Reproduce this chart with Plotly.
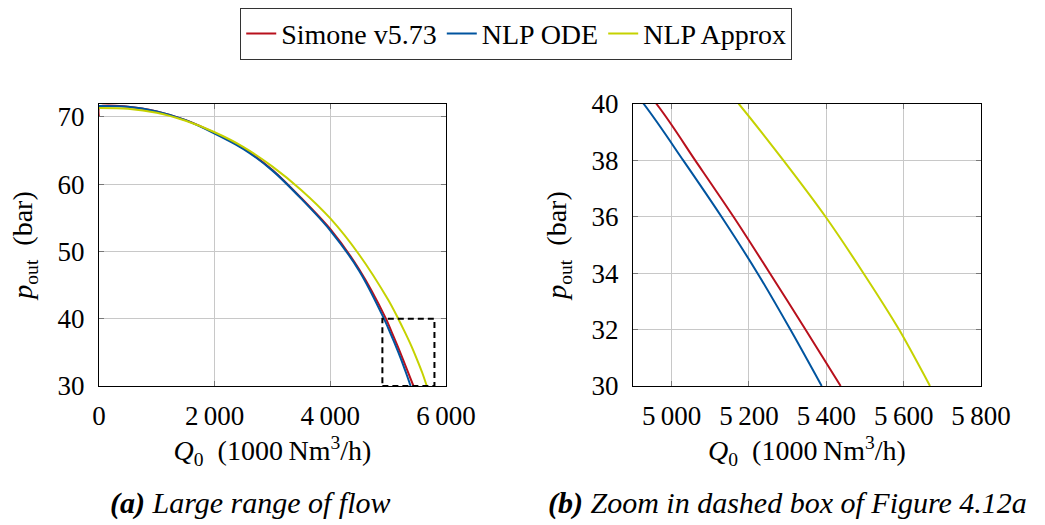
import plotly.graph_objects as go
from plotly.subplots import make_subplots

# ---- data ----
simone_q = [0, 10, 500, 1000, 1500, 2000, 2500, 3000, 3500, 4000, 4500, 4961, 5061, 5160, 5254, 5346, 5437]
simone_p = [70.0, 71.5, 71.5, 70.8, 69.5, 67.6, 65.3, 62.1, 57.9, 53.3, 47.3, 40.0, 38.0, 36.0, 34.0, 32.0, 30.0]

ode_q = [0, 500, 1000, 1500, 2000, 2500, 3000, 3500, 4000, 4500, 4928, 5030, 5129, 5222, 5307, 5388]
ode_p = [71.6, 71.5, 70.8, 69.5, 67.5, 65.2, 62.0, 57.8, 53.1, 47.1, 40.0, 38.0, 36.0, 34.0, 32.0, 30.0]

approx_q = [0, 500, 1000, 1500, 2000, 2500, 3000, 3500, 4000, 4500, 5000, 5174, 5289, 5398, 5496, 5588, 5668]
approx_p = [71.3, 71.2, 70.6, 69.4, 67.7, 65.5, 62.6, 59.1, 54.9, 49.5, 42.8, 40.0, 38.0, 36.0, 34.0, 32.0, 30.0]

names = ["Simone v5.73", "NLP ODE", "NLP Approx"]
colors = ["#B8101C", "#00549F", "#C5D200"]

left_xticks = [0, 2000, 4000, 6000]
left_xlabels = ["0", "2\u2009000", "4\u2009000", "6\u2009000"]
left_yticks = [30, 40, 50, 60, 70]
right_xticks = [5000, 5200, 5400, 5600, 5800]
right_xlabels = ["5\u2009000", "5\u2009200", "5\u2009400", "5\u2009600", "5\u2009800"]
right_yticks = [30, 32, 34, 36, 38, 40]

box_q = [4900, 5800]
box_p = [30, 40]

FONT = "Liberation Serif, Tinos, Times New Roman, DejaVu Serif, serif"

fig = make_subplots(rows=1, cols=2)

series = [(simone_q, simone_p), (ode_q, ode_p), (approx_q, approx_p)]
for i, (q, p) in enumerate(series):
    for col in (1, 2):
        fig.add_trace(
            go.Scatter(x=q, y=p, mode="lines", name=names[i],
                       line=dict(color=colors[i], width=2, shape="spline", smoothing=0.8),
                       showlegend=(col == 1), cliponaxis=True),
            row=1, col=col)

axis_common = dict(
    showgrid=True, gridcolor="#c8c8c8", gridwidth=1,
    showline=True, linecolor="black", linewidth=1, mirror="ticks",
    ticks="inside", ticklen=5, tickcolor="#777777",
    zeroline=False, automargin=False,
    tickfont=dict(family=FONT, size=27, color="black"),
)
title_font = dict(family=FONT, size=28, color="black")

xtitle = "<i>Q</i><sub>0</sub>  (1000\u2009Nm<sup>3</sup>/h)"
ytitle = "<i>p</i><sub>out</sub>  (bar)"

fig.update_xaxes(axis_common)
fig.update_yaxes(axis_common)
fig.update_xaxes(ticklabelstandoff=6)
fig.update_yaxes(ticklabelstandoff=8)

fig.update_xaxes(row=1, col=1, domain=[0.0947, 0.4268], range=[0, 6000],
                 tickvals=left_xticks, ticktext=left_xlabels,
                 title=dict(text=xtitle, font=title_font, standoff=10))
fig.update_xaxes(row=1, col=2, domain=[0.6057, 0.9388], range=[4900, 5800],
                 tickvals=right_xticks, ticktext=right_xlabels,
                 title=dict(text=xtitle, font=title_font, standoff=10))
fig.update_yaxes(row=1, col=1, domain=[0.2648, 0.8019], range=[30, 71.9],
                 tickvals=left_yticks,
                 title=dict(text=ytitle, font=title_font, standoff=16))
fig.update_yaxes(row=1, col=2, domain=[0.2648, 0.8019], range=[30, 40],
                 tickvals=right_yticks,
                 title=dict(text=ytitle, font=title_font, standoff=16))

fig.add_shape(type="rect", xref="x", yref="y",
              x0=box_q[0], x1=box_q[1], y0=box_p[0], y1=box_p[1],
              line=dict(color="black", width=2, dash="6px,4px"))

fig.add_annotation(xref="paper", yref="paper", x=0.240, y=0.042,
                   text="<b><i>(a)</i></b> <i>Large range of flow</i>",
                   showarrow=False, font=dict(family=FONT, size=30, color="black"),
                   xanchor="center", yanchor="middle")
fig.add_annotation(xref="paper", yref="paper", x=0.754, y=0.042,
                   text="<b><i>(b)</i></b> <i>Zoom in dashed box of Figure 4.12a</i>",
                   showarrow=False, font=dict(family=FONT, size=30, color="black"),
                   xanchor="center", yanchor="middle")

fig.update_layout(
    width=1045, height=525,
    margin=dict(l=0, r=0, t=0, b=0, autoexpand=False),
    paper_bgcolor="white", plot_bgcolor="white",
    font=dict(family=FONT, size=27, color="black"),
    showlegend=True,
    legend=dict(orientation="h", x=0.494, y=0.985, xanchor="center", yanchor="top",
                bordercolor="#333333", borderwidth=1, bgcolor="white",
                font=dict(family=FONT, size=28, color="black"),
                itemwidth=30, tracegroupgap=0),
)

fig.write_html("out.html", config={"displayModeBar": False},
               post_script="document.body.style.margin='0px';")
